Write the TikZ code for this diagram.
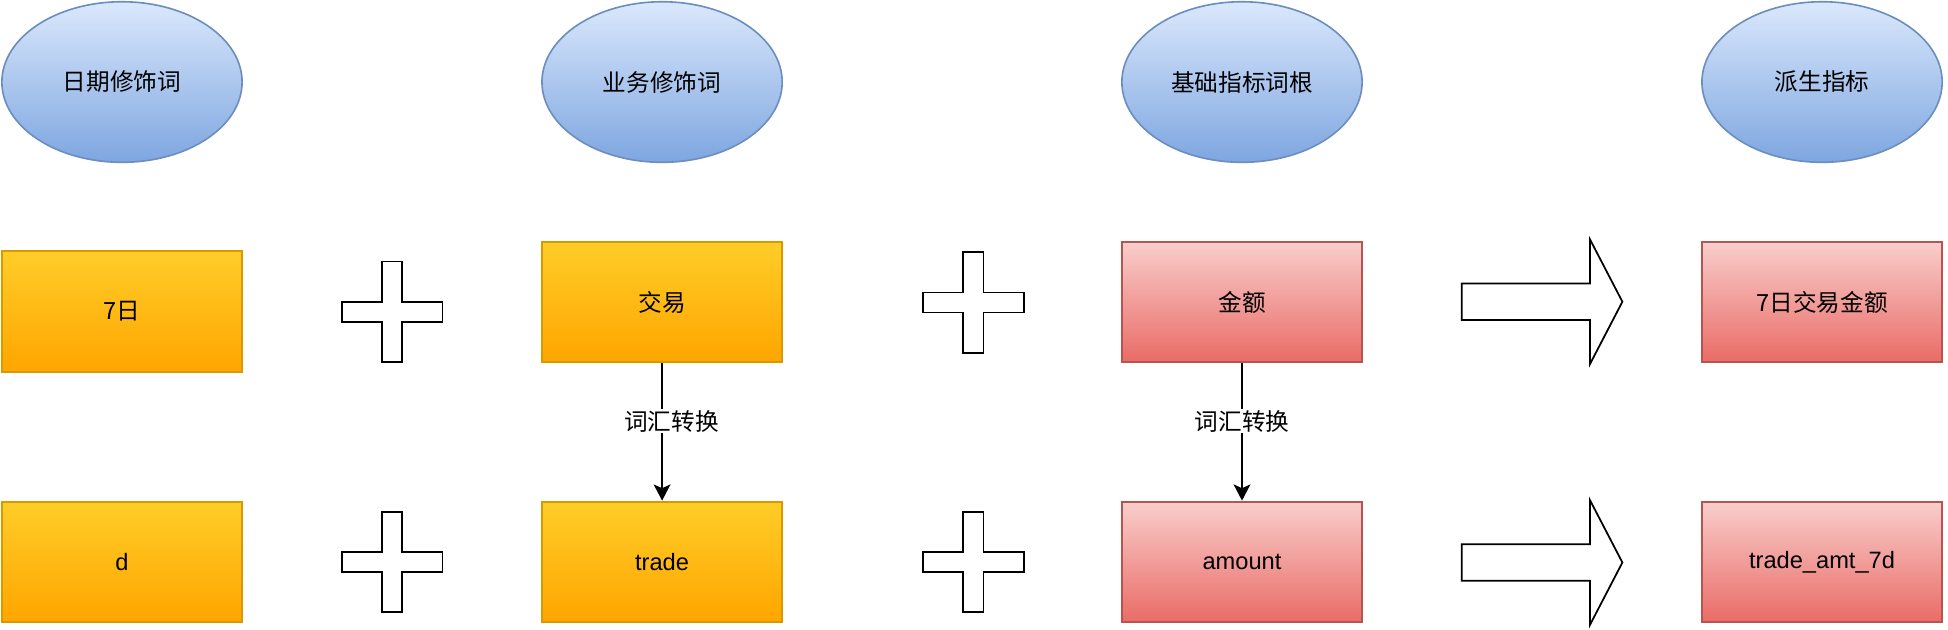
\documentclass[tikz,border=0pt]{standalone}
\usepackage{fontspec}
\setmainfont{Liberation Sans}
\newfontfamily\cjk{Noto Sans CJK SC}
\usetikzlibrary{shapes.geometric,arrows.meta}
\definecolor{elltop}{HTML}{DAE8FC}
\definecolor{ellbot}{HTML}{7EA6E0}
\definecolor{elldraw}{HTML}{6C8EBF}
\definecolor{ytop}{HTML}{FFCD28}
\definecolor{ybot}{HTML}{FFA500}
\definecolor{ydraw}{HTML}{D79B00}
\definecolor{rtop}{HTML}{F8CECC}
\definecolor{rbot}{HTML}{EA6B66}
\definecolor{rdraw}{HTML}{B85450}
\tikzset{
  txt/.style={font=\fontsize{19}{23}\selectfont},
  ell/.style={ellipse, draw=elldraw, line width=1.3pt, top color=elltop, bottom color=ellbot,
    minimum width=193pt, minimum height=129pt, inner sep=0pt, txt, font=\cjk\fontsize{19}{23}\selectfont},
  box/.style={rectangle, line width=1.6pt, minimum width=193pt, minimum height=97pt, inner sep=0pt, txt},
  ybox/.style={box, draw=ydraw, top color=ytop, bottom color=ybot},
  rbox/.style={box, draw=rdraw, top color=rtop, bottom color=rbot},
  plusshape/.style={draw=black, line width=1.4pt, fill=white, line join=miter},
  fatarrow/.style={draw=black, line width=1.4pt, fill=white, line join=miter},
  conn/.style={draw=black, line width=1.4pt, -{Stealth[length=13pt,width=13.5pt,inset=3pt]}},
  lbl/.style={fill=white, inner sep=1pt, font=\cjk\fontsize{19}{23}\selectfont},
}
\newcommand{\plusat}[2]{%
  \draw[plusshape, shift={(#1,#2)}] (-8.2,-40.4) -- (8.2,-40.4) -- (8.2,-8) -- (40.4,-8) -- (40.4,8) -- (8.2,8) -- (8.2,40.4) -- (-8.2,40.4) -- (-8.2,8) -- (-40.4,8) -- (-40.4,-8) -- (-8.2,-8) -- cycle;}
\newcommand{\fatarrowat}[2]{%
  \draw[fatarrow, shift={(#1,#2)}] (-64.5,-14.7) -- (38.5,-14.7) -- (38.5,-50) -- (64.5,0) -- (38.5,50) -- (38.5,14.7) -- (-64.5,14.7) -- cycle;}
\begin{document}
\begin{tikzpicture}[x=1pt,y=-1pt]
\useasboundingbox (0,0) rectangle (1565,506);
% header ellipses
\node[ell] (e1) at (98,65.9) {日期修饰词};
\node[ell] (e2) at (531.9,65.9) {业务修饰词};
\node[ell] (e3) at (997.8,65.9) {基础指标词根};
\node[ell] (e4) at (1463.8,65.9) {派生指标};
% row 2
\node[ybox, font=\cjk\fontsize{19}{23}\selectfont] (b1) at (98,250.4) {7日};
\node[ybox, font=\cjk\fontsize{19}{23}\selectfont] (b2) at (531.9,242.6) {交易};
\node[rbox, font=\cjk\fontsize{19}{23}\selectfont] (b3) at (997.8,242.6) {金额};
\node[rbox, font=\cjk\fontsize{19}{23}\selectfont] (b4) at (1463.8,242.6) {7日交易金额};
% row 3
\node[ybox] (c1) at (98,451.5) {d};
\node[ybox] (c2) at (531.9,451.5) {trade};
\node[rbox] (c3) at (997.8,451.5) {amount};
\node[rbox] (c4) at (1463.8,451.5) {trade\_amt\_7d};
% plus signs
\plusat{315}{250.5}
\plusat{782}{243}
\plusat{315}{451.5}
\plusat{782}{451.5}
% fat arrows
\fatarrowat{1238.9}{242.4}
\fatarrowat{1238.9}{451.9}
% conversions
\draw[conn] (b2.south) -- node[lbl, pos=0.42, xshift=7.5pt] {词汇转换} (c2.north);
\draw[conn] (b3.south) -- node[lbl, pos=0.42] {词汇转换} (c3.north);
\end{tikzpicture}
\end{document}
